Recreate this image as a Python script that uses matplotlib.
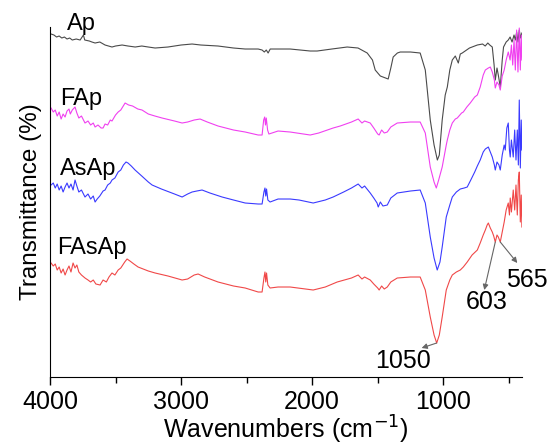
import matplotlib
matplotlib.use("Agg")
import matplotlib.pyplot as plt
from matplotlib.ticker import MultipleLocator

plt.rcParams['font.family'] = ['Liberation Sans', 'DejaVu Sans']

# -----------------------------
# Spectra (wavenumber, offset transmittance)
# -----------------------------
ap_wn = [3992, 3970, 3950, 3930, 3910, 3890, 3870, 3850, 3830, 3800, 3770, 3745, 3735, 3700,
         3680, 3656, 3620, 3580, 3527, 3500, 3450, 3405, 3350, 3300, 3250, 3198, 3100, 3000,
         2916, 2850, 2718, 2600, 2511, 2412, 2382, 2365, 2350, 2336, 2320, 2260, 2168, 2015,
         1962, 1850, 1733, 1650, 1580, 1540, 1519, 1480, 1440, 1420, 1400, 1382, 1350, 1328,
         1250, 1176, 1137, 1099, 1070, 1045, 1030, 1008, 985, 969, 950, 931, 908, 885, 870,
         855, 800, 740, 700, 680, 660, 645, 626, 612, 603, 590, 580, 565, 550, 540, 520, 504,
         490, 475, 460, 450, 440, 430, 420, 410, 400]
ap_t = [343, 342, 340, 341, 339, 340, 338, 339, 337, 338, 337, 342, 337, 336,
        335, 334, 335, 332, 330, 331, 332, 331, 330, 331, 330, 329, 330, 332,
        333, 332, 331, 329, 328, 328, 327, 325, 327, 324, 328, 328, 328, 326,
        326, 328, 330, 329, 324, 317, 307, 301, 299, 298, 309, 320, 324, 325,
        325, 324, 307, 257, 232, 217, 222, 257, 282, 290, 307, 317, 321, 314, 323,
        324, 329, 332, 333, 331, 334, 332, 330, 312, 297, 309, 302, 290, 317, 330, 335, 337,
        340, 335, 342, 337, 345, 335, 347, 339, 344]

fap_wn = [3992, 3975, 3960, 3945, 3930, 3915, 3900, 3885, 3870, 3855, 3845, 3830, 3809, 3795,
          3780, 3760, 3733, 3710, 3690, 3670, 3656, 3634, 3610, 3595, 3580, 3560, 3540, 3527,
          3500, 3480, 3460, 3427, 3400, 3370, 3330, 3298, 3250, 3200, 3145, 3050, 2992, 2950,
          2900, 2855, 2800, 2718, 2600, 2511, 2412, 2382, 2370, 2362, 2356, 2350, 2340, 2330,
          2260, 2168, 2015, 1950, 1840, 1786, 1700, 1649, 1620, 1600, 1557, 1530, 1500, 1489,
          1470, 1450, 1427, 1400, 1351, 1250, 1176, 1137, 1099, 1070, 1053, 1035, 1008, 977,
          969, 950, 931, 908, 893, 860, 847, 820, 794, 760, 740, 718, 695, 679, 656, 641, 626,
          610, 603, 590, 575, 565, 550, 535, 520, 504, 490, 480, 470, 460, 450, 440, 430, 420,
          412, 405, 400]
fap_t = [269, 265, 267, 261, 265, 258, 263, 260, 266, 268, 263, 267, 270, 264,
         259, 261, 254, 256, 252, 254, 250, 252, 249, 249, 253, 252, 257, 256,
         262, 265, 267, 274, 272, 271, 268, 267, 263, 261, 259, 256, 254, 255,
         257, 258, 255, 251, 247, 245, 242, 242, 257, 260, 252, 259, 247, 243,
         246, 245, 242, 244, 249, 251, 255, 258, 254, 256, 254, 249, 243, 242,
         247, 244, 245, 250, 254, 255, 255, 244, 210, 195, 189, 197, 210, 232,
         237, 247, 254, 258, 259, 264, 265, 270, 274, 280, 282, 290, 302, 307, 309, 310, 305,
         297, 289, 295, 292, 287, 301, 307, 317, 325, 317, 332, 312, 337, 307, 347, 305, 349,
         307, 342, 317]

asap_wn = [3992, 3975, 3960, 3945, 3930, 3915, 3900, 3885, 3870, 3855, 3840, 3824, 3809, 3795,
           3780, 3760, 3733, 3710, 3690, 3670, 3656, 3640, 3620, 3595, 3580, 3560, 3540, 3527,
           3505, 3480, 3460, 3440, 3420, 3405, 3380, 3351, 3300, 3250, 3221, 3150, 3050, 2992,
           2950, 2916, 2880, 2840, 2780, 2687, 2600, 2511, 2412, 2382, 2368, 2360, 2354, 2348,
           2338, 2321, 2260, 2168, 2100, 1992, 1900, 1840, 1760, 1700, 1649, 1620, 1600, 1557,
           1530, 1505, 1496, 1480, 1460, 1427, 1400, 1351, 1250, 1176, 1137, 1099, 1070, 1046,
           1025, 1008, 977, 950, 931, 900, 870, 840, 817, 790, 760, 740, 718, 695, 679, 656,
           641, 626, 610, 603, 590, 575, 565, 550, 535, 527, 515, 504, 495, 489, 480, 466, 455,
           445, 435, 427, 420, 412, 405, 400]
asap_t = [192, 194, 189, 193, 187, 191, 185, 190, 194, 189, 193, 187, 197, 191,
          185, 187, 180, 183, 178, 181, 175, 178, 181, 186, 187, 192, 194, 197,
          199, 205, 207, 212, 215, 214, 211, 207, 201, 195, 192, 188, 183, 180,
          183, 185, 186, 187, 184, 180, 177, 174, 173, 173, 185, 189, 181, 188,
          177, 175, 178, 178, 177, 174, 177, 180, 185, 189, 193, 189, 191, 184,
          179, 174, 170, 175, 171, 172, 179, 184, 186, 187, 174, 140, 119, 107,
          115, 130, 160, 172, 180, 185, 188, 189, 190, 197, 205, 211, 217, 225, 228, 230,
          225, 220, 212, 207, 215, 212, 207, 222, 232, 227, 249, 254, 227, 220, 237, 220, 247,
          217, 247, 212, 277, 209, 257, 227]

fasap_wn = [3992, 3975, 3960, 3945, 3930, 3915, 3900, 3885, 3870, 3855, 3840, 3824, 3809, 3795,
            3780, 3760, 3733, 3710, 3690, 3670, 3650, 3618, 3595, 3570, 3550, 3527, 3505, 3480,
            3460, 3430, 3412, 3390, 3360, 3328, 3250, 3198, 3100, 2992, 2950, 2900, 2870, 2820,
            2718, 2600, 2511, 2412, 2382, 2368, 2360, 2354, 2348, 2338, 2321, 2260, 2168, 1992,
            1900, 1809, 1700, 1649, 1620, 1600, 1557, 1530, 1500, 1489, 1470, 1450, 1427, 1400,
            1351, 1250, 1176, 1137, 1099, 1070, 1050, 1030, 1008, 977, 950, 931, 900, 870, 847,
            817, 780, 740, 718, 695, 679, 665, 656, 641, 626, 615, 603, 590, 580, 565, 550, 535,
            520, 504, 495, 489, 480, 466, 455, 445, 435, 427, 420, 412, 405, 400]
fasap_t = [114, 111, 113, 107, 110, 104, 108, 102, 107, 111, 105, 114, 109, 112,
           105, 102, 99, 97, 95, 97, 93, 92, 97, 95, 100, 104, 102, 107,
           109, 115, 118, 116, 113, 110, 106, 104, 101, 97, 98, 102, 103, 100,
           95, 91, 89, 85, 85, 99, 105, 95, 104, 92, 89, 90, 90, 87,
           90, 95, 99, 102, 98, 100, 97, 93, 89, 87, 91, 88, 90, 95,
           99, 100, 100, 87, 60, 42, 34, 42, 60, 87, 97, 102, 105, 107, 110,
           115, 122, 127, 134, 142, 147, 152, 154, 149, 145, 141, 135, 142, 140, 135, 145, 155,
           167, 174, 162, 179, 165, 187, 167, 192, 162, 197, 205, 155, 182, 150]

series = [
    ("Ap", ap_wn, ap_t, "#4a4a4a"),
    ("FAp", fap_wn, fap_t, "#f040f0"),
    ("AsAp", asap_wn, asap_t, "#3a3aff"),
    ("FAsAp", fasap_wn, fasap_t, "#f04848"),
]

# label anchor (wavenumber, height) for each trace name
label_pos = {"Ap": (3870, 347), "FAp": (3924, 272), "AsAp": (3924, 202), "FAsAp": (3947, 123)}

# peak markers: (text, peak wn, peak height, arrow head wn, head height, text wn, text height)
peaks = [
    ("1050", 1050, 34, 1165, 29, 1310, 16),
    ("603", 603, 135, 687, 87, 672, 75),
    ("565", 565, 135, 435, 114, 359, 97),
]

# -----------------------------
# Plot
# -----------------------------
fig = plt.figure(figsize=(5.5, 4.45), dpi=100)
ax = fig.add_axes([0.0909, 0.1528, 0.858, 0.7865])

for name, wn, t, color in series:
    ax.plot(wn, t, color=color, lw=0.8)
    lx, ly = label_pos[name]
    ax.text(lx, ly, name, fontsize=17, ha='left', va='baseline')

for txt, px, py, hx, hy, tx, ty in peaks:
    ax.annotate('', xy=(hx, hy), xytext=(px, py),
                arrowprops=dict(arrowstyle='-|>', color='0.4', lw=0.8,
                                mutation_scale=8, shrinkA=0, shrinkB=0))
    ax.text(tx, ty, txt, fontsize=18, ha='center', va='center', clip_on=False)

ax.set_xlim(4000, 400)
ax.set_ylim(0, 350)
ax.xaxis.set_major_locator(MultipleLocator(1000))
ax.xaxis.set_minor_locator(MultipleLocator(500))
ax.tick_params(axis='x', which='major', direction='out', length=6, width=1, labelsize=18, pad=3)
ax.tick_params(axis='x', which='minor', direction='out', length=4, width=1)
ax.set_yticks([])
ax.spines['top'].set_visible(False)
ax.spines['right'].set_visible(False)

ax.set_xlabel("Wavenumbers (cm$^{-1}$)", fontsize=18, labelpad=0)
ax.set_ylabel("Transmittance (%)", fontsize=17.5, labelpad=6)

plt.savefig("out.png", dpi=100)
